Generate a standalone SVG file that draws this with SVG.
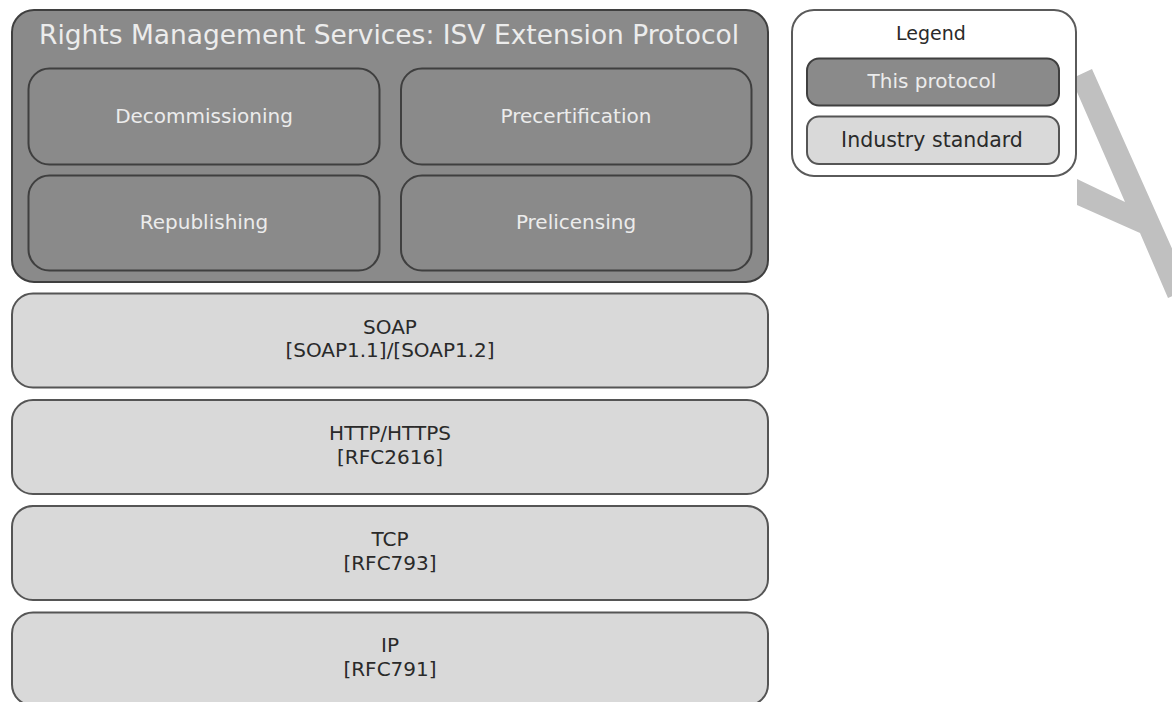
<svg xmlns="http://www.w3.org/2000/svg" width="1172" height="702" viewBox="0 0 1172 702">
<style>
  .dark { fill: #8a8a8a; stroke: #3f3f3f; stroke-width: 2; }
  .light { fill: #d9d9d9; stroke: #555555; stroke-width: 2; }
  .legend { fill: #ffffff; stroke: #5a5a5a; stroke-width: 2; }
  text { font-family: "DejaVu Sans", Verdana, sans-serif; text-anchor: middle; }
  .tl { fill: #ececec; }
  .td { fill: #2a2a2a; }
</style>
<rect width="1172" height="702" fill="#ffffff"/>
<polygon fill="#c0c0c0" points="1092,69 1190,289 1168,298 1140,233 1077,205 1077,179 1125,202 1077,92 1077,76"/>
<g id="isv-protocol">
  <rect class="dark" x="12" y="10" width="756" height="272" rx="22" ry="22"/>
  <text class="tl" x="389" y="44" font-size="26" textLength="700" lengthAdjust="spacingAndGlyphs">Rights Management Services: ISV Extension Protocol</text>
</g>
<g id="decommissioning">
  <rect class="dark" x="28.5" y="68.5" width="351" height="96" rx="21" ry="21"/>
  <text class="tl" x="204" y="123" font-size="20">Decommissioning</text>
</g>
<g id="precertification">
  <rect class="dark" x="401" y="68.5" width="350.5" height="96" rx="21" ry="21"/>
  <text class="tl" x="576" y="123" font-size="20">Precertification</text>
</g>
<g id="republishing">
  <rect class="dark" x="28.5" y="175.5" width="351" height="95" rx="21" ry="21"/>
  <text class="tl" x="204" y="229" font-size="20">Republishing</text>
</g>
<g id="prelicensing">
  <rect class="dark" x="401" y="175.5" width="350.5" height="95" rx="21" ry="21"/>
  <text class="tl" x="576" y="229" font-size="20">Prelicensing</text>
</g>
<g id="soap">
  <rect class="light" x="12" y="293.5" width="756" height="94" rx="21" ry="21"/>
  <text class="td" x="390" y="334" font-size="20">SOAP</text>
  <text class="td" x="390" y="357" font-size="20">[SOAP1.1]/[SOAP1.2]</text>
</g>
<g id="http">
  <rect class="light" x="12" y="400" width="756" height="94" rx="21" ry="21"/>
  <text class="td" x="390" y="440" font-size="20">HTTP/HTTPS</text>
  <text class="td" x="390" y="464" font-size="20">[RFC2616]</text>
</g>
<g id="tcp">
  <rect class="light" x="12" y="506" width="756" height="94" rx="21" ry="21"/>
  <text class="td" x="390" y="546" font-size="20">TCP</text>
  <text class="td" x="390" y="570" font-size="20">[RFC793]</text>
</g>
<g id="ip">
  <rect class="light" x="12" y="612.5" width="756" height="93" rx="21" ry="21"/>
  <text class="td" x="390" y="652" font-size="20">IP</text>
  <text class="td" x="390" y="676" font-size="20">[RFC791]</text>
</g>
<g id="legend">
  <rect class="legend" x="792" y="10" width="284" height="166" rx="22" ry="22"/>
  <text class="td" x="931" y="40" font-size="19">Legend</text>
</g>
<g id="legend-this-protocol">
  <rect class="dark" x="807" y="58.5" width="252" height="47" rx="12" ry="12"/>
  <text class="tl" x="932" y="88" font-size="20">This protocol</text>
</g>
<g id="legend-industry-standard">
  <rect class="light" x="807" y="116.5" width="252" height="47.5" rx="12" ry="12"/>
  <text class="td" x="932" y="147" font-size="20.5">Industry standard</text>
</g>
<g id="connectors"></g>
</svg>
